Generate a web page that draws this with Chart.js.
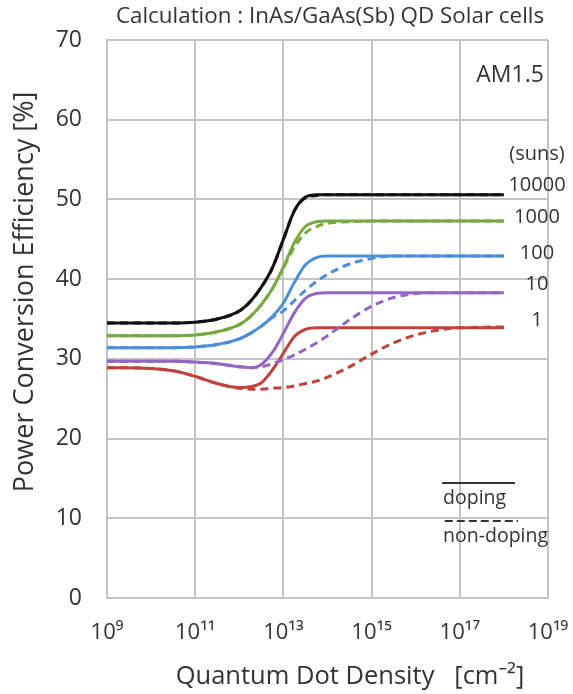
<!DOCTYPE html>
<html lang="en">

<head>
    <meta charset="UTF-8">
    <title>InAs/GaAs(Sb) QD Solar cells</title>
    <script src="https://cdn.jsdelivr.net/npm/chart.js"></script>
    <style>
        body { margin: 0; background: #fff; }
        canvas { display: block; }
    </style>
</head>

<body>
    <canvas id="qdChart" width="573" height="694"></canvas>

    <script>
        // log10 of quantum dot density [cm-2]
        const densityExp = [9, 10, 10.5, 11, 11.5, 12, 12.25, 12.5, 12.75, 13, 13.25, 13.5, 13.75, 14, 14.5, 15, 15.5, 16, 16.5, 17, 18];

        const suns = ['10000', '1000', '100', '10', '1'];
        const colors = ['#111111', '#78a840', '#4b8fd8', '#9466c4', '#c2413b'];

        // doping (solid)
        const doping10000 = [34.5, 34.5, 34.5, 34.6, 35.0, 36.0, 37.2, 39.0, 41.4, 45.0, 48.6, 50.3, 50.6, 50.6, 50.6, 50.6, 50.6, 50.6, 50.6, 50.6, 50.6];
        const doping1000 = [32.9, 32.9, 32.9, 33.0, 33.4, 34.3, 35.3, 36.8, 38.8, 41.5, 44.6, 46.6, 47.2, 47.3, 47.3, 47.3, 47.3, 47.3, 47.3, 47.3, 47.3];
        const doping100 = [31.4, 31.4, 31.4, 31.5, 31.8, 32.5, 33.2, 34.1, 35.3, 37.0, 39.6, 41.8, 42.7, 42.9, 42.9, 42.9, 42.9, 42.9, 42.9, 42.9, 42.9];
        const doping10 = [29.7, 29.7, 29.7, 29.6, 29.4, 29.0, 28.9, 29.3, 30.8, 33.2, 35.8, 37.6, 38.2, 38.3, 38.3, 38.3, 38.3, 38.3, 38.3, 38.3, 38.3];
        const doping1 = [28.9, 28.8, 28.5, 27.8, 26.9, 26.4, 26.5, 27.0, 28.6, 30.7, 32.8, 33.7, 33.9, 33.9, 33.9, 33.9, 33.9, 33.9, 33.9, 33.9, 33.9];

        // non-doping (dashed)
        const nonDoping10000 = [34.5, 34.5, 34.5, 34.6, 35.0, 36.0, 37.2, 39.0, 41.4, 45.0, 48.6, 50.2, 50.5, 50.6, 50.6, 50.6, 50.6, 50.6, 50.6, 50.6, 50.6];
        const nonDoping1000 = [32.9, 32.9, 32.9, 33.0, 33.4, 34.3, 35.3, 36.8, 38.8, 41.4, 44.0, 45.8, 46.6, 47.0, 47.2, 47.3, 47.3, 47.3, 47.3, 47.3, 47.3];
        const nonDoping100 = [31.4, 31.4, 31.4, 31.5, 31.8, 32.5, 33.2, 34.1, 35.2, 36.0, 37.3, 38.6, 39.7, 40.6, 41.9, 42.6, 42.9, 42.9, 42.9, 42.9, 42.9];
        const nonDoping10 = [29.7, 29.7, 29.7, 29.6, 29.4, 29.0, 28.9, 29.0, 29.4, 29.9, 30.5, 31.2, 32.0, 32.9, 34.9, 36.6, 37.7, 38.2, 38.3, 38.3, 38.3];
        const nonDoping1 = [28.9, 28.8, 28.5, 27.8, 26.9, 26.3, 26.2, 26.2, 26.3, 26.4, 26.6, 26.9, 27.2, 27.7, 29.0, 30.6, 32.0, 33.0, 33.6, 33.9, 34.0];

        const dopingSeries = [doping10000, doping1000, doping100, doping10, doping1];
        const nonDopingSeries = [nonDoping10000, nonDoping1000, nonDoping100, nonDoping10, nonDoping1];

        // where the sun labels sit (data coords)
        const sunLabelX = 18.75;
        const sunLabelY = [51.8, 47.7, 43.3, 39.3, 34.9];

        const FONT = '"Open Sans", "Noto Sans", sans-serif';
        const TEXT = '#333333';
        const GRID = '#c4c4c4';

        const supDigits = { '0': '⁰', '1': '¹', '2': '²', '3': '³', '4': '⁴', '5': '⁵', '6': '⁶', '7': '⁷', '8': '⁸', '9': '⁹' };
        const sup = (n) => String(n).split('').map(c => supDigits[c]).join('');

        const toPoints = (vals) => densityExp.map((x, i) => ({ x: x, y: vals[i] }));

        const datasets = [];
        nonDopingSeries.forEach((vals, i) => {
            datasets.push({
                label: suns[i] + ' non-doping',
                data: toPoints(vals),
                borderColor: colors[i],
                borderWidth: 3,
                borderDash: [8, 5],
                pointRadius: 0,
                cubicInterpolationMode: 'monotone',
                fill: false
            });
        });
        dopingSeries.forEach((vals, i) => {
            datasets.push({
                label: suns[i] + ' doping',
                data: toPoints(vals),
                borderColor: colors[i],
                borderWidth: 3,
                pointRadius: 0,
                cubicInterpolationMode: 'monotone',
                fill: false
            });
        });

        const annotations = {
            id: 'annotations',
            afterDraw(chart) {
                const ctx = chart.ctx;
                const xs = chart.scales.x;
                const ys = chart.scales.y;
                ctx.save();
                ctx.fillStyle = TEXT;
                ctx.textBaseline = 'middle';

                // chart title
                ctx.textAlign = 'center';
                ctx.font = '22.4px ' + FONT;
                ctx.fillText('Calculation : InAs/GaAs(Sb) QD Solar cells', 330, 17);

                // axis titles
                ctx.font = '25.5px ' + FONT;
                ctx.fillText('Quantum Dot Density   [cm⁻²]', xs.getPixelForValue(14.51), 677);
                ctx.save();
                ctx.translate(25, ys.getPixelForValue(38.4));
                ctx.rotate(-Math.PI / 2);
                ctx.font = '27px ' + FONT;
                ctx.fillText('Power Conversion Efficiency [%]', 0, 0);
                ctx.restore();

                // AM1.5
                ctx.font = '23px ' + FONT;
                ctx.fillText('AM1.5', xs.getPixelForValue(18.14), ys.getPixelForValue(65.6));

                // sun labels
                ctx.font = '20px ' + FONT;
                ctx.fillText('(suns)', xs.getPixelForValue(sunLabelX), ys.getPixelForValue(55.6));
                suns.forEach((s, i) => {
                    ctx.fillText(s, xs.getPixelForValue(sunLabelX), ys.getPixelForValue(sunLabelY[i]));
                });

                // doping / non-doping key
                ctx.strokeStyle = '#333333';
                ctx.lineWidth = 2;
                ctx.beginPath();
                ctx.moveTo(xs.getPixelForValue(16.6), ys.getPixelForValue(14.43));
                ctx.lineTo(xs.getPixelForValue(18.25), ys.getPixelForValue(14.43));
                ctx.stroke();
                ctx.setLineDash([8, 4]);
                ctx.beginPath();
                ctx.moveTo(xs.getPixelForValue(16.66), ys.getPixelForValue(9.66));
                ctx.lineTo(xs.getPixelForValue(18.32), ys.getPixelForValue(9.66));
                ctx.stroke();
                ctx.setLineDash([]);
                ctx.textAlign = 'left';
                ctx.font = '19.5px ' + FONT;
                ctx.fillText('doping', xs.getPixelForValue(16.62), ys.getPixelForValue(12.5));
                ctx.fillText('non-doping', xs.getPixelForValue(16.62), ys.getPixelForValue(7.7));
                ctx.restore();
            }
        };

        new Chart(document.getElementById('qdChart'), {
            type: 'line',
            data: { datasets: datasets },
            options: {
                responsive: false,
                animation: false,
                layout: { padding: { top: 40, right: 25, left: 0, bottom: 0 } },
                plugins: {
                    legend: { display: false },
                    tooltip: { enabled: false }
                },
                scales: {
                    x: {
                        type: 'linear',
                        min: 9,
                        max: 19,
                        afterFit: (s) => { s.height = 96; s.paddingLeft = 0; s.paddingRight = 0; },
                        ticks: {
                            stepSize: 2,
                            padding: 22,
                            color: TEXT,
                            font: { family: FONT, size: 22 },
                            callback: (v) => '10' + sup(v)
                        },
                        grid: { color: GRID, lineWidth: 2, drawTicks: false },
                        border: { color: GRID, width: 2 }
                    },
                    y: {
                        min: 0,
                        max: 70,
                        afterFit: (s) => { s.width = 107; s.paddingTop = 0; s.paddingBottom = 0; },
                        ticks: {
                            stepSize: 10,
                            padding: 25,
                            color: TEXT,
                            font: { family: FONT, size: 23 }
                        },
                        grid: { color: GRID, lineWidth: 2, drawTicks: false },
                        border: { color: GRID, width: 2 }
                    }
                }
            },
            plugins: [annotations]
        });
    </script>
</body>

</html>
